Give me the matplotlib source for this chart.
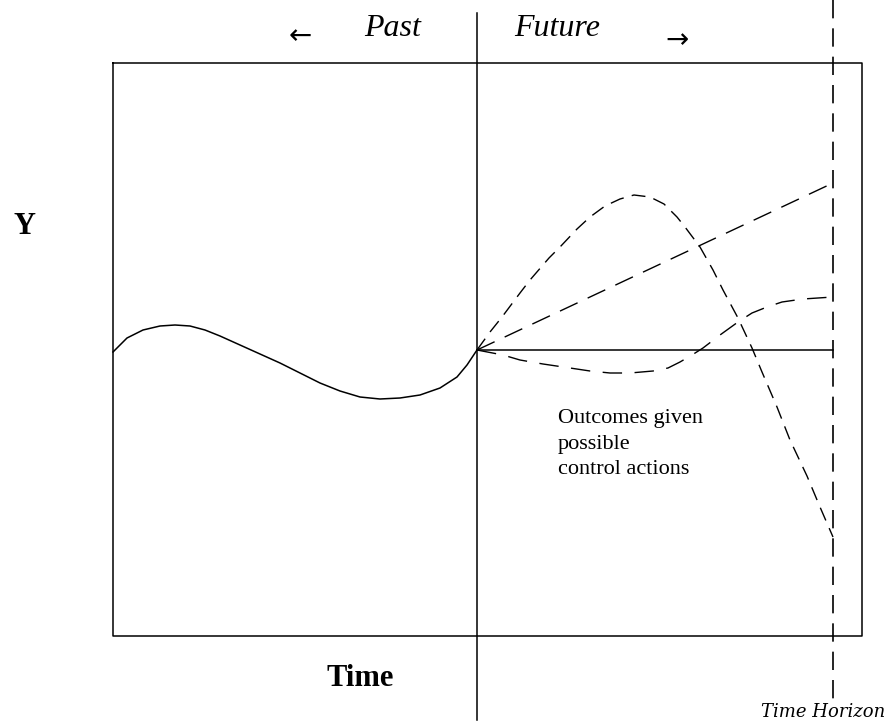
import matplotlib.pyplot as plt

# diagram, pixel-like units (y grows downwards)
past_x = [113, 127, 143, 160, 175, 190, 205, 220, 240, 260, 280, 300, 320, 340, 360, 380, 400,
          420, 440, 457, 467, 477]
past_y = [352, 338, 330, 326, 325, 326, 330, 336, 345, 354, 363, 373, 383, 391, 397, 399, 398,
          395, 388, 377, 365, 350]

peak_x = [477, 490, 502, 520, 530, 549, 560, 577, 590, 605, 620, 634, 650, 664, 677, 685, 700,
          713, 723, 738, 752, 762, 777, 790, 807, 820, 833]
peak_y = [350, 332, 317, 293, 280, 258, 247, 229, 217, 206, 199, 195, 197, 204, 217, 227, 247,
          270, 290, 318, 348, 372, 407, 440, 476, 507, 537]

dip_x = [477, 503, 520, 543, 570, 590, 610, 630, 653, 668, 680, 692, 703, 720, 738, 752, 767,
         782, 803, 833]
dip_y = [350, 355, 360, 364, 368, 371, 373, 373, 371, 368, 362, 355, 348, 335, 322, 313, 307,
         302, 299, 297]

lin_x = [477, 833]
lin_y = [350, 183]

flat_x = [477, 833]
flat_y = [350, 350]

box_x = [113, 862, 862, 113, 113]
box_y = [63, 63, 636, 636, 63]

now_x = 477
horizon_x = 833

plt.rcParams['font.family'] = ['Liberation Serif', 'DejaVu Serif']

fig = plt.figure(figsize=(8.9, 7.24), dpi=100)
fig.set_facecolor('white')
ax = fig.add_axes([0, 0, 1, 1])
ax.set_xlim(0, 890)
ax.set_ylim(724, 0)
ax.axis('off')

k = dict(color='black', lw=1.1)
ax.plot(box_x, box_y, **k)
ax.plot([now_x, now_x], [13, 720], **k)
ax.plot([horizon_x, horizon_x], [0, 708], color='black', lw=1.2, dashes=(11, 6))

ax.plot(past_x, past_y, **k)
ax.plot(flat_x, flat_y, **k)
ax.plot(lin_x, lin_y, color='black', lw=1.0, dashes=(14, 8))
ax.plot(peak_x, peak_y, color='black', lw=1.0, dashes=(10, 6))
ax.plot(dip_x, dip_y, color='black', lw=1.0, dashes=(14, 9))

ax.text(393, 28, 'Past', style='italic', fontsize=23, ha='center', va='center')
ax.text(557, 28, 'Future', style='italic', fontsize=23, ha='center', va='center')
ax.text(300, 36, '←', fontsize=20, ha='center', va='center', family=['DejaVu Sans'])
ax.text(677, 40, '→', fontsize=20, ha='center', va='center', family=['DejaVu Sans'])

ax.text(25, 226, 'Y', fontsize=22, weight='bold', ha='center', va='center')
ax.text(360, 678, 'Time', fontsize=22, weight='bold', ha='center', va='center')
ax.text(558, 444, 'Outcomes given\npossible\ncontrol actions', fontsize=16,
        ha='left', va='center', linespacing=1.45)
ax.text(823, 712, 'Time Horizon', style='italic', fontsize=13, ha='center', va='center',
        family=['DejaVu Serif'])

fig.savefig('out.png', dpi=100)
